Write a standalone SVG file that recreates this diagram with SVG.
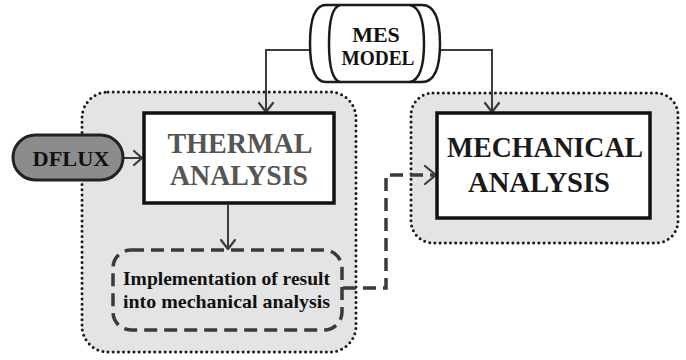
<svg xmlns="http://www.w3.org/2000/svg" width="686" height="360" viewBox="0 0 686 360">
  <style>
    .region { fill: #e4e4e4; stroke: #1a1a1a; stroke-width: 3; stroke-dasharray: 0 5.2; stroke-linecap: round; }
    .box { fill: #ffffff; stroke: #111111; stroke-width: 3.5; }
    .title { font-weight: bold; font-size: 30px; text-anchor: middle; }
    .label { font-weight: bold; fill: #111111; }
    .wire { fill: none; stroke: #3c3c3c; stroke-width: 2; }
    .dash { fill: none; stroke: #3a3a3a; stroke-width: 3.5; stroke-dasharray: 13 7; }
    .head { fill: none; stroke: #3c3c3c; stroke-width: 2.2; stroke-linecap: round; stroke-linejoin: round; }
  </style>

  <rect width="686" height="360" fill="#ffffff"/>

  <!-- thermal stage region -->
  <g id="thermal-region">
    <rect class="region" x="82" y="92" width="274" height="260" rx="26"/>
  </g>

  <!-- mechanical stage region -->
  <g id="mechanical-region">
    <rect class="region" x="411" y="93" width="267" height="150" rx="22"/>
  </g>

  <!-- connectors -->
  <g id="connectors">
    <!-- model to thermal analysis -->
    <path class="wire" d="M312,50 H266 V112"/>
    <path class="head" d="M259,103 L266,112 L273,103"/>
    <!-- model to mechanical analysis -->
    <path class="wire" d="M438,50 H492 V112"/>
    <path class="head" d="M485,103 L492,112 L499,103"/>
    <!-- heat flux to thermal analysis -->
    <path class="wire" d="M123,158 H142"/>
    <path class="head" d="M134,151 L142,158 L134,165"/>
    <!-- thermal analysis to result transfer -->
    <path class="wire" d="M228,205 V249"/>
    <path class="head" d="M221,240 L228,249 L235,240"/>
    <!-- result transfer to mechanical analysis -->
    <path class="dash" d="M343,288 H386 V175 H434"/>
    <path class="head" d="M425,166 L436,175 L425,184" stroke-width="3.5" stroke="#3a3a3a"/>
  </g>

  <!-- FE model -->
  <g id="mes-model" font-family="'Liberation Serif', 'Times New Roman', Times, serif">
    <path d="M326,5 H422 Q440,5 440,43.5 Q440,82 422,82 H326 Q310,82 310,43.5 Q310,5 326,5 Z" fill="#ffffff" stroke="#1a1a1a" stroke-width="2.5"/>
    <path d="M340,5 Q329,8 329,43.5 Q329,79 340,82" fill="none" stroke="#1a1a1a" stroke-width="2.5"/>
    <path d="M410,5 Q424,8 424,43.5 Q424,79 410,82" fill="none" stroke="#1a1a1a" stroke-width="2.5"/>
    <text class="label" x="376" y="42" font-size="22" text-anchor="middle">MES</text>
    <text class="label" x="378" y="65" font-size="21" text-anchor="middle" textLength="73" lengthAdjust="spacingAndGlyphs">MODEL</text>
  </g>

  <!-- heat flux input -->
  <g id="dflux" font-family="'Liberation Serif', 'Times New Roman', Times, serif">
    <rect x="13" y="135" width="110" height="45" rx="22.5" fill="#8c8c8c" stroke="#222222" stroke-width="3"/>
    <text class="label" x="71" y="166" font-size="21" text-anchor="middle" textLength="77" lengthAdjust="spacingAndGlyphs">DFLUX</text>
  </g>

  <!-- thermal analysis -->
  <g id="thermal-analysis" font-family="'Liberation Serif', 'Times New Roman', Times, serif">
    <rect class="box" x="144" y="113" width="190" height="90"/>
    <text class="title" x="240" y="153" fill="#555555" textLength="145" lengthAdjust="spacingAndGlyphs">THERMAL</text>
    <text class="title" x="239" y="185" fill="#555555" textLength="138" lengthAdjust="spacingAndGlyphs">ANALYSIS</text>
  </g>

  <!-- transfer of thermal results -->
  <g id="result-transfer" font-family="'Liberation Serif', 'Times New Roman', Times, serif">
    <rect class="dash" x="113" y="250" width="229" height="80" rx="18" fill="#ffffff"/>
    <text class="label" x="123" y="285" font-size="19" textLength="207" lengthAdjust="spacingAndGlyphs">Implementation of result</text>
    <text class="label" x="123" y="308" font-size="19" textLength="207" lengthAdjust="spacingAndGlyphs">into mechanical analysis</text>
  </g>

  <!-- mechanical analysis -->
  <g id="mechanical-analysis" font-family="'Liberation Serif', 'Times New Roman', Times, serif">
    <rect class="box" x="437" y="113" width="213" height="105"/>
    <text class="title" x="545" y="157" fill="#1a1a1a" textLength="196" lengthAdjust="spacingAndGlyphs">MECHANICAL</text>
    <text class="title" x="539" y="192" fill="#1a1a1a" textLength="142" lengthAdjust="spacingAndGlyphs">ANALYSIS</text>
  </g>
</svg>
